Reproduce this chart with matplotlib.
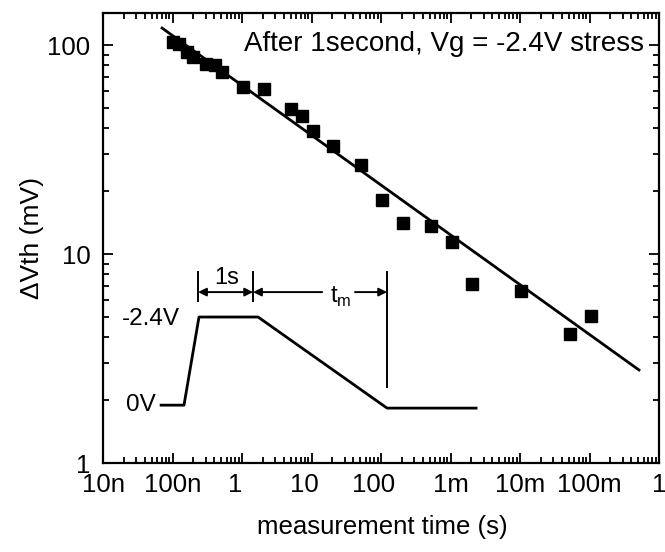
import matplotlib
matplotlib.use("Agg")
import matplotlib.pyplot as plt
from matplotlib.ticker import LogLocator, FixedLocator, FixedFormatter, NullFormatter

plt.rcParams['font.family'] = ['Liberation Sans', 'DejaVu Sans']
plt.rcParams['mathtext.fontset'] = 'custom'
plt.rcParams['mathtext.rm'] = 'Liberation Sans'

# measured threshold shift after 1 s stress at Vg = -2.4 V
t_meas = [1.02e-7, 1.24e-7, 1.62e-7, 1.97e-7, 3.03e-7, 4.1e-7, 5.2e-7, 1.03e-6,
          2.07e-6, 5.07e-6, 7.3e-6, 1.05e-5, 2.04e-5, 5.15e-5, 1.03e-4, 2.07e-4,
          5.2e-4, 1.05e-3, 2.04e-3, 1.03e-2, 5.2e-2, 0.105]
dvth = [103, 101, 92.6, 87.6, 81, 80, 74.3, 63, 61.6, 49.4, 45.7, 38.8, 32.9,
        26.7, 18.1, 14.1, 13.6, 11.4, 7.18, 6.65, 4.14, 5.05]

# power-law fit end points
fit_t = [7.06e-8, 0.515]
fit_v = [120.6, 2.79]

# stress waveform schematic (drawn in data space)
wave_t = [6.84e-8, 1.46e-7, 2.40e-7, 1.70e-6, 1.22e-4, 2.33e-3]
wave_v = [1.894, 1.894, 5.0, 5.0, 1.833, 1.833]

xticks = [1e-8, 1e-7, 1e-6, 1e-5, 1e-4, 1e-3, 1e-2, 1e-1, 1]
# the micro sign is lost in the original, leaving a blank after the digits
xlabels = ['10n', '100n', '1  ', '10  ', '100  ', '1m', '10m', '100m', '1']
yticks = [1, 10, 100]
ylabels = ['1', '10', '100']

fig = plt.figure(figsize=(6.65, 5.52), dpi=100)
ax = fig.add_axes([0.155, 0.161, 0.836, 0.815])

ax.plot(t_meas, dvth, 's', color='black', markersize=8.5, zorder=3)
ax.plot(fit_t, fit_v, '-', color='black', linewidth=2.0)

ax.set_xscale('log')
ax.set_yscale('log')
ax.set_xlim(1e-8, 1)
ax.set_ylim(1, 142)

ax.xaxis.set_major_locator(FixedLocator(xticks))
ax.xaxis.set_major_formatter(FixedFormatter(xlabels))
ax.xaxis.set_minor_locator(LogLocator(base=10, subs=range(2, 10), numticks=20))
ax.xaxis.set_minor_formatter(NullFormatter())
ax.yaxis.set_major_locator(FixedLocator(yticks))
ax.yaxis.set_major_formatter(FixedFormatter(ylabels))
ax.yaxis.set_minor_locator(LogLocator(base=10, subs=range(2, 10), numticks=20))
ax.yaxis.set_minor_formatter(NullFormatter())

ax.tick_params(which='both', direction='in', top=True, right=True, width=1.3)
ax.tick_params(which='major', length=7, labelsize=18.5)
ax.tick_params(which='minor', length=4)
ax.tick_params(axis='x', which='major', pad=7)
ax.tick_params(axis='y', which='major', pad=9)
for s in ax.spines.values():
    s.set_linewidth(1.6)

ax.set_xlabel('measurement time (s)', fontsize=18.5, va='center')
ax.xaxis.set_label_coords(0.502, -0.142)
ax.set_ylabel('ΔVth (mV)', fontsize=19, va='center')
ax.yaxis.set_label_coords(-0.128, 0.5)

ax.text(0.973, 0.931, 'After 1second, Vg = -2.4V stress', transform=ax.transAxes,
        ha='right', va='center', fontsize=20)

# waveform inset
ax.plot(wave_t, wave_v, '-', color='black', linewidth=2.0)
ax.text(1.28e-7, 4.89, '-2.4V', ha='right', va='center', fontsize=17.5)
ax.text(5.8e-8, 1.894, '0V', ha='right', va='center', fontsize=17.5)

lw = 1.4
ax.plot([2.33e-7, 2.33e-7], [5.96, 8.2], color='black', linewidth=lw)
ax.plot([1.44e-6, 1.44e-6], [5.96, 8.2], color='black', linewidth=lw)
ax.plot([1.22e-4, 1.22e-4], [2.31, 8.2], color='black', linewidth=lw)

arw = dict(arrowstyle='<|-|>', color='black', lw=lw, mutation_scale=12, shrinkA=0, shrinkB=0)
ax.annotate('', xy=(1.44e-6, 6.58), xytext=(2.33e-7, 6.58), arrowprops=arw)
one = dict(arrowstyle='-|>', color='black', lw=lw, mutation_scale=12, shrinkA=0, shrinkB=0)
ax.annotate('', xy=(1.44e-6, 6.58), xytext=(1.42e-5, 6.58), arrowprops=one)
ax.annotate('', xy=(1.22e-4, 6.58), xytext=(4.22e-5, 6.58), arrowprops=one)
ax.text(6.08e-7, 7.7, '1s', ha='center', va='center', fontsize=17)
ax.text(1.85e-5, 5.83, r'$\mathrm{t}_{\mathrm{m}}$', ha='left', va='baseline', fontsize=17)

fig.savefig('out.png', dpi=100)
